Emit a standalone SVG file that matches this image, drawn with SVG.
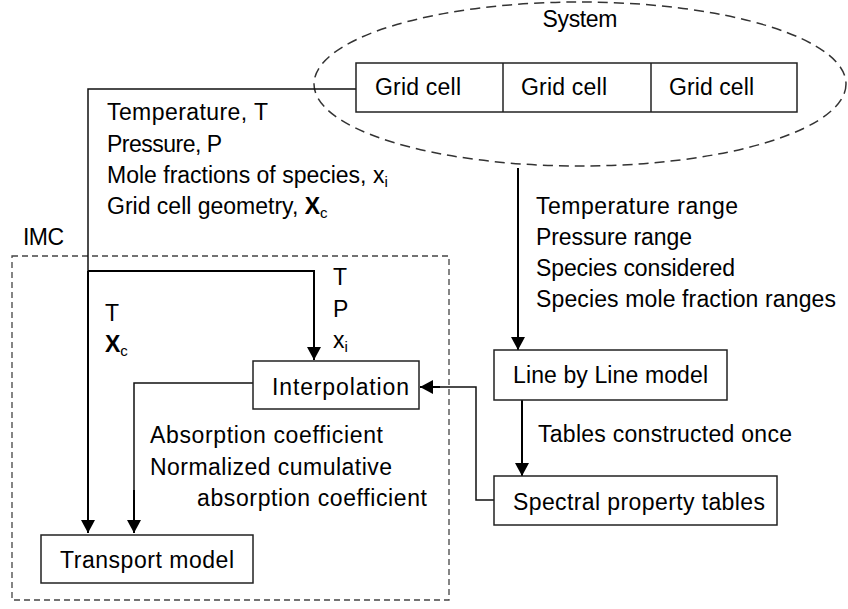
<svg xmlns="http://www.w3.org/2000/svg" width="848" height="609" viewBox="0 0 848 609">
<style>
text{font-family:"Liberation Sans",Arial,sans-serif;font-size:23px;fill:#000}
.box{fill:#fff;stroke:#222;stroke-width:1.5}
.dash{fill:none;stroke:#333;stroke-width:1.5;stroke-dasharray:10 6}
.imc{fill:none;stroke:#444;stroke-width:1.3;stroke-dasharray:6 4}
.ln{fill:none;stroke:#111;stroke-width:1.5}
.ar{fill:none;stroke:#000;stroke-width:2;marker-end:url(#ah)}
.sub{font-size:15px}
</style>
<defs>
<marker id="ah" markerUnits="userSpaceOnUse" markerWidth="14" markerHeight="14" refX="13" refY="7" orient="auto">
<path d="M0,0 L13,7 L0,14 z" fill="#000"/>
</marker>
</defs>
<g id="system">
<ellipse class="dash" cx="580" cy="84" rx="266" ry="82"/>
<text x="580" y="27" text-anchor="middle" textLength="75">System</text>
</g>
<g id="imc">
<rect class="imc" x="12" y="256" width="437" height="344"/>
<text x="23" y="245" textLength="41">IMC</text>
</g>
<g id="connectors">
<path class="ln" d="M356,89 H88 V271"/>
<path class="ar" d="M88,271 V533"/>
<path class="ar" d="M88,271 H314 V360"/>
<path class="ar" d="M518,168 V350"/>
<path class="ar" d="M522,400 V476"/>
<path class="ln" d="M494,500 H476 V387 H430"/>
<path class="ar" d="M440,387 H420"/>
<path class="ln" d="M253,383 H134 V500"/>
<path class="ar" d="M134,490 V533"/>
</g>
<g id="grid-cells">
<rect class="box" x="356" y="63" width="441" height="49"/>
<line x1="503" y1="63" x2="503" y2="112" stroke="#222" stroke-width="1.5"/>
<line x1="651" y1="63" x2="651" y2="112" stroke="#222" stroke-width="1.5"/>
<text x="375" y="95" textLength="86">Grid cell</text>
<text x="521" y="95" textLength="86">Grid cell</text>
<text x="669" y="95" textLength="85">Grid cell</text>
</g>
<g id="labels-cell">
<text x="107" y="120" textLength="161">Temperature, T</text>
<text x="107" y="152" textLength="115">Pressure, P</text>
<text x="107" y="183">Mole fractions of species, x<tspan class="sub" dy="4">i</tspan></text>
<text x="107" y="214">Grid cell geometry, <tspan font-weight="bold">X</tspan><tspan class="sub" dy="4">c</tspan></text>
</g>
<g id="labels-range">
<text x="536" y="214" textLength="202">Temperature range</text>
<text x="536" y="245" textLength="156">Pressure range</text>
<text x="536" y="276" textLength="199">Species considered</text>
<text x="536" y="307" textLength="300">Species mole fraction ranges</text>
</g>
<g id="labels-tpx">
<text x="333" y="285">T</text>
<text x="333" y="317">P</text>
<text x="333" y="348">x<tspan class="sub" dy="4">i</tspan></text>
<text x="105" y="321">T</text>
<text x="105" y="352"><tspan font-weight="bold">X</tspan><tspan class="sub" dy="4">c</tspan></text>
</g>
<g id="interpolation">
<rect class="box" x="253" y="361" width="166" height="48"/>
<text x="272" y="395" textLength="137">Interpolation</text>
</g>
<g id="labels-abs">
<text x="150" y="443" textLength="233">Absorption coefficient</text>
<text x="150" y="475" textLength="242">Normalized cumulative</text>
<text x="197" y="506" textLength="230">absorption coefficient</text>
</g>
<g id="transport">
<rect class="box" x="41" y="535" width="212" height="48"/>
<text x="60" y="568" textLength="174">Transport model</text>
</g>
<g id="lbl">
<rect class="box" x="494" y="350" width="233" height="50"/>
<text x="513" y="383" textLength="195">Line by Line model</text>
</g>
<text x="538" y="442" textLength="254">Tables constructed once</text>
<g id="spectral">
<rect class="box" x="494" y="476" width="283" height="49"/>
<text x="513" y="510" textLength="252">Spectral property tables</text>
</g>
</svg>
